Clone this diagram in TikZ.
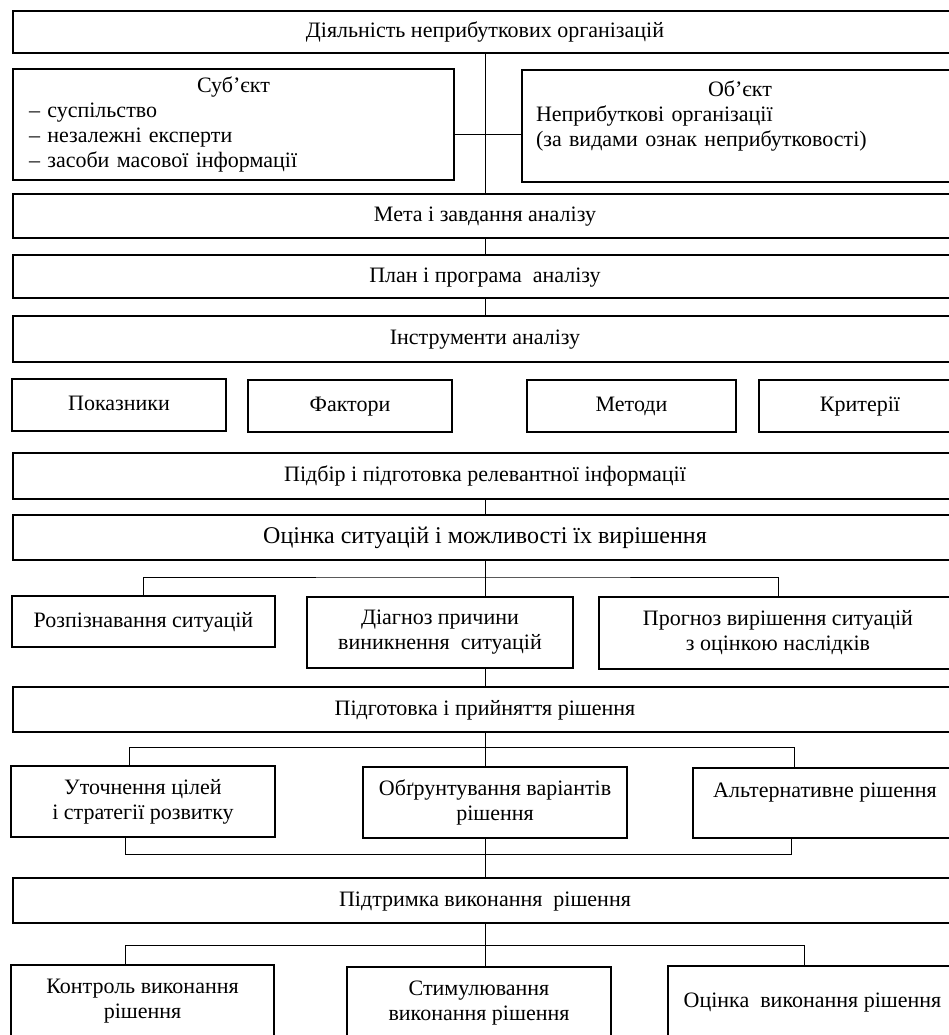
\documentclass[tikz,border=0pt]{standalone}
\usepackage{fontspec}
\setmainfont{Liberation Serif}
\begin{document}
\begin{tikzpicture}[x=0.5pt,y=-0.5pt,font=\fontsize{11}{12.5}\selectfont,
                   box/.style={draw,line width=1pt,align=center,inner sep=2pt},
                   one/.style={box,text height=8pt,text depth=2.5pt},
                   wide/.style={one,minimum width=472pt},
                   link/.style={line width=0.5pt}
                   ]
    \useasboundingbox (0,0) rectangle (949,1035);

    \node[wide,minimum height=21pt](b0) at (485,32) {Діяльність неприбуткових організацій};
    \node[box,minimum width=220.5pt,minimum height=55.5pt,text width=204.5pt,align=left](b1) at (233.5,124.5) {
        \hspace*{\fill}Суб’єкт\hspace*{\fill}\mbox{}\\
        – суспільство\\
        – незалежні експерти\\
        – засоби масової інформації};
    \node[box,minimum width=218pt,minimum height=56pt,text width=204pt,align=left](b2) at (740,126) {
        \hspace*{\fill}Об’єкт\hspace*{\fill}\mbox{}\\
        Неприбуткові організації\\
        (за видами ознак неприбутковості)\\
        \mbox{}};
    \node[wide,minimum height=22pt](b3) at (485,216) {Мета і завдання аналізу};
    \node[wide,minimum height=21.5pt](b4) at (485,276.5) {План і програма\ \ аналізу};
    \node[wide,minimum height=23pt](b5) at (485,339) {Інструменти аналізу};

    \node[one,minimum width=107pt,minimum height=26pt](t1) at (119,405) {Показники};
    \node[one,minimum width=102pt,minimum height=26pt](t2) at (350,405.5) {Фактори};
    \node[one,minimum width=104.5pt,minimum height=26pt](t3) at (631.5,406) {Методи};
    \node[one,minimum width=101pt,minimum height=26pt](t4) at (860,406) {Критерії};

    \node[wide,minimum height=23pt](b6) at (485,476) {Підбір і підготовка релевантної інформації};
    \node[wide,minimum height=22.5pt,font=\fontsize{12}{14}\selectfont](b7) at (485,537.5) {Оцінка ситуацій і можливості їх вирішення};

    \node[one,minimum width=131.5pt,minimum height=25.5pt](e1) at (143.5,621.5) {Розпізнавання ситуацій};
    \node[box,minimum width=133pt,minimum height=35.5pt](e2) at (440,632.5) {Діагноз причини\\виникнення\ \ ситуацій};
    \node[box,minimum width=179pt,minimum height=36pt](e3) at (778,633) {Прогноз вирішення ситуацій\\з оцінкою наслідків};

    \node[wide,minimum height=22.5pt](b8) at (485,709.5) {Підготовка і прийняття рішення};

    \node[box,minimum width=132pt,minimum height=35.5pt](p1) at (143,801.5) {Уточнення цілей\\і стратегії розвитку};
    \node[box,minimum width=132pt,minimum height=35.5pt](p2) at (495,802.5) {Обґрунтування варіантів\\рішення};
    \node[box,minimum width=132pt,minimum height=35pt](p3) at (825,803) {Альтернативне рішення\\\mbox{}};

    \node[wide,minimum height=22.5pt](b9) at (485,900.5) {Підтримка виконання\ \ рішення};

    \node[box,minimum width=131.5pt,minimum height=36pt](s1) at (142.5,1001) {Контроль виконання\\рішення};
    \node[box,minimum width=132pt,minimum height=36pt](s2) at (479,1003) {Стимулювання\\виконання рішення};
    \node[one,minimum width=144.5pt,minimum height=36pt](s3) at (812.5,1002) {Оцінка\ \ виконання рішення};

    \coordinate (k0) at (485,134);
    \coordinate (k1) at (485,577);
    \coordinate (k2) at (129,747);
    \coordinate (k3) at (794,747);
    \coordinate (k4) at (125,854);
    \coordinate (k5) at (791,854);
    \coordinate (k6) at (125,945);
    \coordinate (k7) at (804,945);

    \path[link] (b0) edge (b3)
    (b3) edge (b4)
    (b4) edge (b5)
    (b6) edge (b7);
    \draw[link] (b1.east |- k0) -- (b2.west |- k0);
    \draw[link] (b7.south) -- (b7.south |- e2.north);
    \draw[link] (e1.north) |- (k1) -| (e3.north);
    \draw[link] (e2.south -| b8.north) -- (b8.north);
    \draw[link] (b8.south) -- (b8.south |- p2.north);
    \draw[link] (k2 |- p1.north) -- (k2) -- (k3) -- (k3 |- p3.north);
    \draw[link] (k4 |- p1.south) -- (k4) -- (k5) -- (k5 |- p3.south);
    \draw[link] (p2.south -| b9.north) -- (b9.north);
    \draw[link] (b9.south) -- (b9.south |- s2.north);
    \draw[link] (k6 |- s1.north) -- (k6) -- (k7) -- (k7 |- s3.north);

\end{tikzpicture}
\end{document}
